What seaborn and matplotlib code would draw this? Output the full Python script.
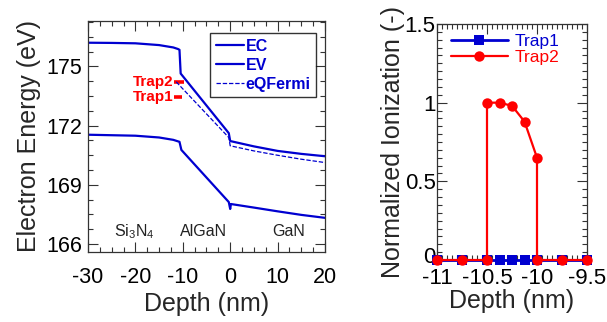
import numpy as np
import pandas as pd
import matplotlib
matplotlib.use("Agg")
import matplotlib.pyplot as plt
import matplotlib.transforms as mtransforms
import seaborn as sns
from matplotlib.ticker import MultipleLocator, FixedLocator

# ---------------- data (left panel: band diagram) ----------------
ec_depth = [-30, -25, -20, -15, -12, -11, -10.7, -10.45, -0.3, 0, 5, 10, 15, 20]
ec_energy = [176.2, 176.19, 176.17, 176.08, 175.96, 175.88, 175.84, 174.64, 171.62, 171.22, 170.95, 170.72, 170.57, 170.45]

ev_depth = [-30, -20, -15, -12, -10.7, -10.3, -0.3, 0, 0.15, 5, 10, 15, 20]
ev_energy = [171.54, 171.49, 171.4, 171.28, 171.18, 170.77, 168.13, 167.78, 168.03, 167.85, 167.66, 167.48, 167.33]

qf_depth = [-11.4, -0.3, 0, 5, 10, 15, 20]
qf_energy = [174.22, 171.4, 170.98, 170.72, 170.5, 170.3, 170.13]

trap_names = ["Trap1", "Trap2"]
trap_levels = [173.44, 174.22]
trap_x0 = [-11.8, -11.8]
trap_x1 = [-10.2, -9.8]

layer_names = ["Si$_\\mathregular{3}$N$_\\mathregular{4}$", "AlGaN", "GaN"]
layer_x = [-20.3, -5.7, 12.4]
layer_y = [166.62, 166.62, 166.62]

y_major_ticks = [166, 169, 172, 175]

# ---------------- data (right panel: ionization) ----------------
trap1_depth = [-11, -10.75, -10.5, -10.375, -10.25, -10.125, -10, -9.75, -9.5]
trap1_ion = [0, 0, 0, 0, 0, 0, 0, 0, 0]
trap2_depth = [-11, -10.75, -10.5, -10.5, -10.375, -10.25, -10.125, -10, -10, -9.75, -9.5]
trap2_ion = [0, 0, 0, 1.0, 1.0, 0.98, 0.88, 0.65, 0, 0, 0]

BLUE = "#0000d0"
RED = "#ff0000"

sns.set_style("ticks")
plt.rcParams["font.family"] = ["Liberation Sans", "DejaVu Sans"]
plt.rcParams["mathtext.fontset"] = "custom"
plt.rcParams["mathtext.rm"] = "Liberation Sans"
plt.rcParams["axes.unicode_minus"] = False

fig = plt.figure(figsize=(6.07, 3.22), dpi=100)
W, H = 607, 322
axL = fig.add_axes([88 / W, (H - 252) / H, 237 / W, 231 / H])
axR = fig.add_axes([437 / W, (H - 260) / H, 150 / W, 236 / H])

# ---- left ----
sns.lineplot(x=ec_depth, y=ec_energy, ax=axL, color=BLUE, lw=1.6, label="EC",
             sort=False, estimator=None)
sns.lineplot(x=ev_depth, y=ev_energy, ax=axL, color=BLUE, lw=1.6, label="EV",
             sort=False, estimator=None)
sns.lineplot(x=qf_depth, y=qf_energy, ax=axL, color=BLUE, lw=0.9, linestyle=(0, (3.5, 1.5)),
             label="eQFermi", sort=False, estimator=None)
for name, lev, x0, x1 in zip(trap_names, trap_levels, trap_x0, trap_x1):
    axL.plot([x0, x1], [lev, lev], color=RED, lw=2.6, solid_capstyle="butt", zorder=1)
    axL.text(x0 - 0.2, lev, name, color=RED, fontsize=11, fontweight="bold",
             ha="right", va="center")
for name, lx, ly in zip(layer_names, layer_x, layer_y):
    axL.text(lx, ly, name, fontsize=11.5, ha="center", va="center", color="#222222")

axL.set_xlim(-30, 20)
axL.set_ylim(165.6, 177.3)
axL.xaxis.set_major_locator(MultipleLocator(10))
axL.xaxis.set_minor_locator(MultipleLocator(2.5))
axL.yaxis.set_major_locator(FixedLocator(y_major_ticks))
axL.yaxis.set_minor_locator(FixedLocator(np.arange(163, 178, 0.75)))
axL.set_xlabel("Depth (nm)", fontsize=18, labelpad=3)
axL.set_ylabel("Electron Energy (eV)", fontsize=18, labelpad=4)
leg = axL.legend(loc="upper right", bbox_to_anchor=(0.962, 0.948), borderaxespad=0,
                 handlelength=1.75, handletextpad=0.1, labelspacing=0.25,
                 borderpad=0.35, fancybox=False, frameon=True,
                 prop={"weight": "bold", "size": 11.5})
leg.get_frame().set_edgecolor("black")
leg.get_frame().set_linewidth(1.0)
for t in leg.get_texts():
    t.set_color(BLUE)

# ---- right ----
sns.lineplot(x=trap1_depth, y=trap1_ion, ax=axR, color=BLUE, lw=2.0, marker="s", ms=6.5,
             markeredgewidth=0, label="Trap1", sort=False, estimator=None, clip_on=False, zorder=3)
sns.lineplot(x=trap2_depth, y=trap2_ion, ax=axR, color=RED, lw=1.6, marker="o", ms=7.5,
             markeredgewidth=0, label="Trap2", sort=False, estimator=None, clip_on=False, zorder=4)
axR.set_xlim(-11, -9.5)
axR.set_ylim(0, 1.5)
axR.xaxis.set_minor_locator(MultipleLocator(0.05))
axR.yaxis.set_minor_locator(MultipleLocator(0.05))
axR.set_xticks([-11, -10.5, -10, -9.5])
axR.set_xticklabels(["-11", "-10.5", "-10", "-9.5"])
axR.set_yticks([0, 0.5, 1, 1.5])
axR.set_yticklabels(["0", "0.5", "1", "1.5"])
axR.set_xlabel("Depth (nm)", fontsize=18, labelpad=0)
axR.set_ylabel("Normalized Ionization (-)", fontsize=18, labelpad=0)
legR = axR.legend(loc="upper left", bbox_to_anchor=(0.09, 0.96), borderaxespad=0, borderpad=0,
                  frameon=False, fontsize=12.5, handlelength=3.3, handletextpad=0.4,
                  labelspacing=0.05)
for t, c in zip(legR.get_texts(), [BLUE, RED]):
    t.set_color(c)

for ax, fs in ((axL, 15.5), (axR, 16)):
    ax.tick_params(which="both", direction="in", top=True, right=True, colors="#333333",
                   labelcolor="black", labelsize=fs, width=0.8)
    ax.tick_params(which="major", length=7, pad=4)
    ax.tick_params(which="minor", length=3.5)
    for s in ax.spines.values():
        s.set_visible(True)
        s.set_color("#333333")
        s.set_linewidth(0.9)
axL.tick_params(axis="x", which="major", pad=11)
axR.tick_params(axis="x", which="major", pad=6)
axR.tick_params(axis="y", which="major", pad=1)

# nudge the "0" label of the right panel up a little so it clears "-11"
zero_lbl = axR.yaxis.get_major_ticks()[0].label1
zero_lbl.set_va("bottom")
zero_lbl.set_transform(zero_lbl.get_transform()
                       + mtransforms.ScaledTranslation(0, -5.5 / 72, fig.dpi_scale_trans))

fig.savefig("out.png", dpi=100)
